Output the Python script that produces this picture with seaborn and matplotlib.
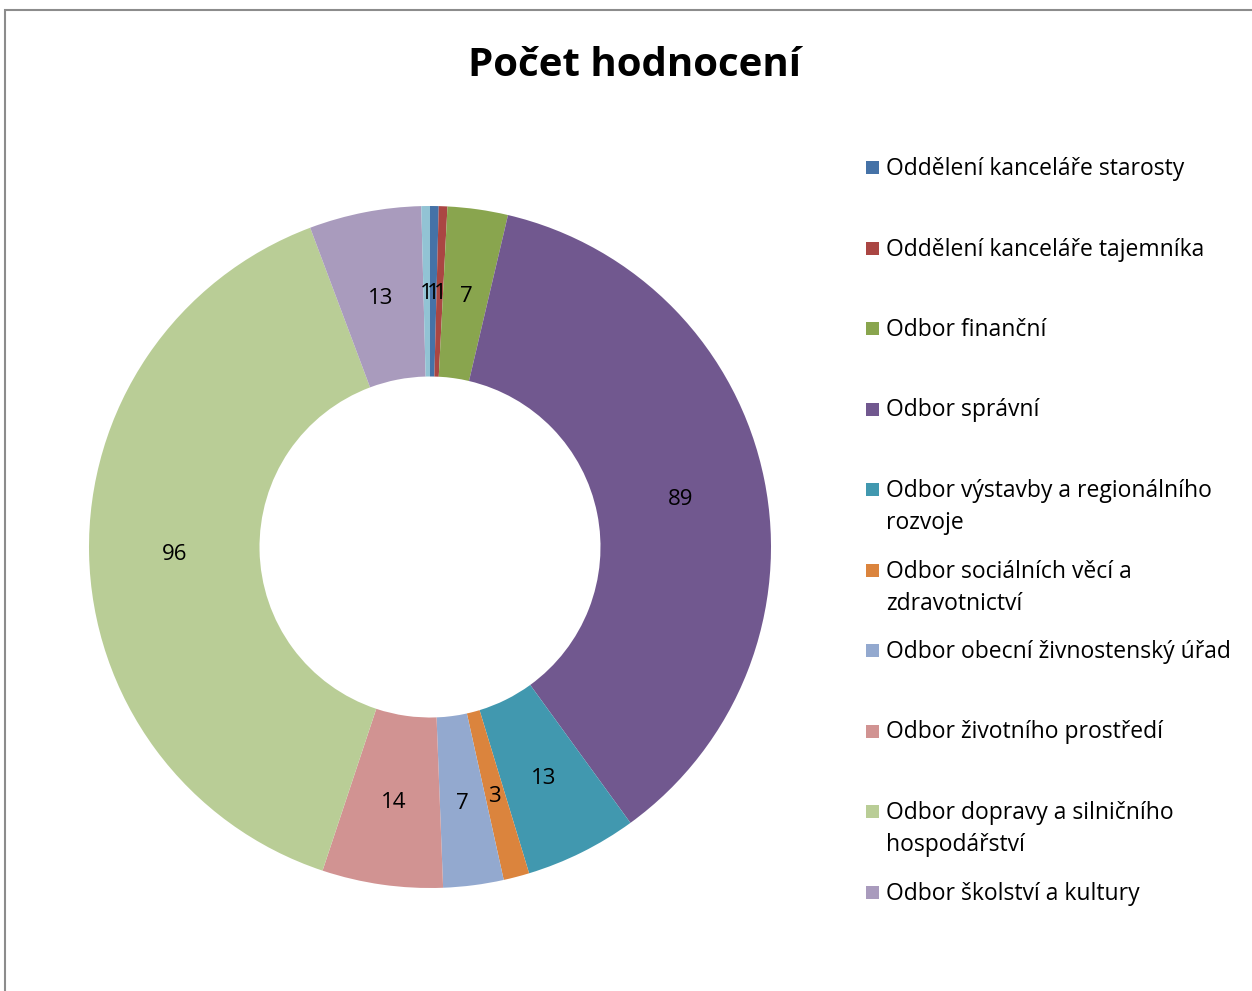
import textwrap

import matplotlib.pyplot as plt
import seaborn as sns
from matplotlib.patches import Rectangle

# Data
departments = [
    "Oddělení kanceláře starosty",
    "Oddělení kanceláře tajemníka",
    "Odbor finanční",
    "Odbor správní",
    "Odbor výstavby a regionálního rozvoje",
    "Odbor sociálních věcí a zdravotnictví",
    "Odbor obecní živnostenský úřad",
    "Odbor životního prostředí",
    "Odbor dopravy a silničního hospodářství",
    "Odbor školství a kultury",
    "Ostatní",
]
counts = [1, 1, 7, 89, 13, 3, 7, 14, 96, 13, 1]
colors = ["#4572A7", "#AA4643", "#89A54E", "#71588F", "#4198AF", "#DB843D",
          "#93A9CF", "#D19392", "#B9CD96", "#A99BBD", "#92C3D4"]
legend_count = 10  # the last entry is cut off in the original legend

sns.set_theme(style="white")
plt.rcParams['font.family'] = ['Open Sans', 'DejaVu Sans']
plt.rcParams['text.color'] = 'black'

W, H = 1252, 991
fig = plt.figure(figsize=(W / 100, H / 100), dpi=100)

# outer frame (chart area border, partly cut off)
fig.add_artist(Rectangle((5 / W, -0.1), 1.2, 1 - 10 / H + 0.1, transform=fig.transFigure,
                         fill=False, edgecolor="#8c8c8c", linewidth=1.5))

cx, cy, r = 430, 547, 341
ax = fig.add_axes([(cx - r) / W, (H - cy - r) / H, 2 * r / W, 2 * r / H])
total = sum(counts)
wedges, texts, autotexts = ax.pie(
    counts, colors=colors, startangle=90, counterclock=False, radius=1,
    wedgeprops=dict(width=0.5, linewidth=0),
    autopct=lambda p: f"{round(p * total / 100)}", pctdistance=0.75,
    textprops=dict(fontsize=16, color="black"))
for t in autotexts:
    t.set_va("center_baseline")
ax.set_xlim(-1, 1)
ax.set_ylim(-1, 1)
ax.axis("off")

fig.text(634 / W, 1 - 65 / H, "Počet hodnocení", ha="center", va="center",
         fontsize=29, fontweight="bold", color="black")

# legend drawn by hand to keep Excel-like even spacing
for i in range(legend_count):
    y = 168 + i * 80.5
    fig.add_artist(Rectangle((866 / W, 1 - (y + 6) / H), 13 / W, 13 / H,
                             transform=fig.transFigure, facecolor=colors[i],
                             edgecolor="none"))
    fig.text(886 / W, 1 - (y - 11) / H, "\n".join(textwrap.wrap(departments[i], 30)),
             ha="left", va="top", fontsize=16.5, linespacing=1.45, color="black")

fig.savefig("out.png", dpi=100)
